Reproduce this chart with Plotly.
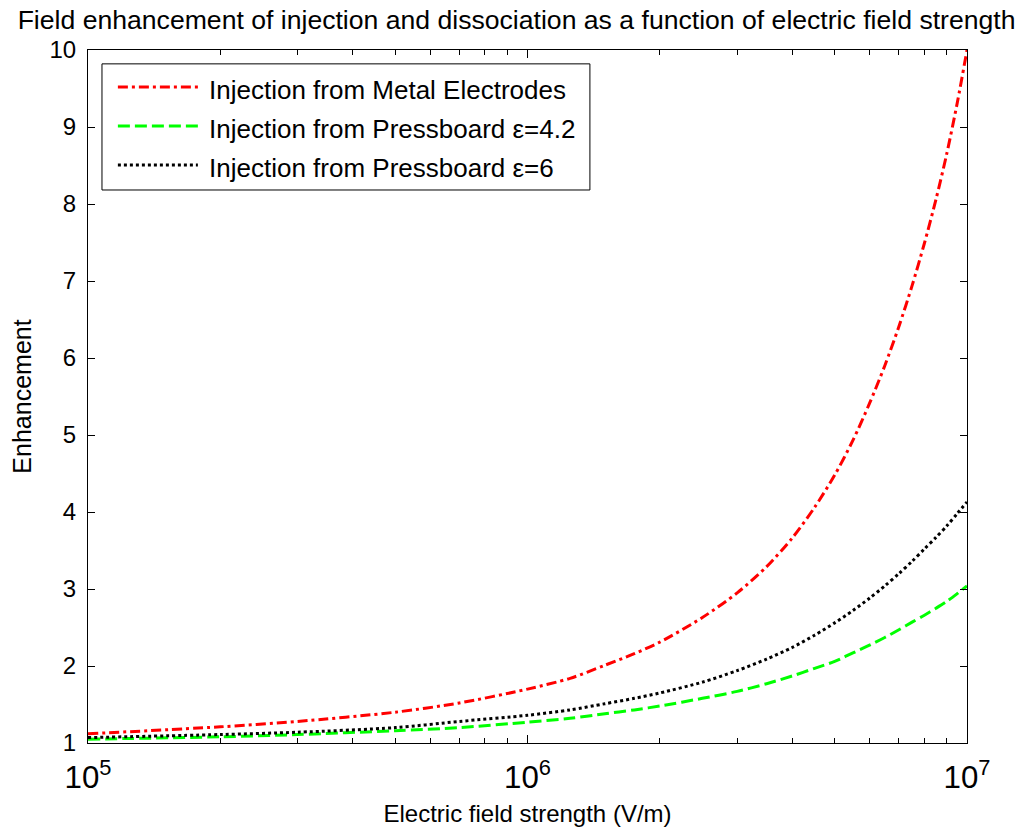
import plotly.graph_objects as go

# Electric field strength (V/m)
field = [1e5, 2e5, 3e5, 5e5, 7e5, 1e6, 1.25e6, 1.5e6, 1.75e6, 2e6, 2.5e6, 3e6, 3.5e6, 4e6,
         4.5e6, 5e6, 5.5e6, 6e6, 6.5e6, 7e6, 7.5e6, 8e6, 8.5e6, 9e6, 9.5e6, 1e7]

# Enhancement factors
metal = [1.12, 1.21, 1.28, 1.40, 1.52, 1.70, 1.84, 2.01, 2.16, 2.31, 2.63, 2.95, 3.29, 3.66,
         4.06, 4.48, 4.93, 5.41, 5.90, 6.41, 6.94, 7.49, 8.06, 8.66, 9.31, 10.0]
pressboard_42 = [1.05, 1.08, 1.11, 1.16, 1.20, 1.27, 1.32, 1.38, 1.43, 1.48, 1.58, 1.67, 1.77, 1.87,
                 1.97, 2.06, 2.17, 2.27, 2.37, 2.47, 2.57, 2.66, 2.75, 2.84, 2.94, 3.04]
pressboard_6 = [1.07, 1.11, 1.14, 1.20, 1.28, 1.36, 1.43, 1.51, 1.58, 1.65, 1.79, 1.94, 2.09, 2.24,
                2.40, 2.56, 2.72, 2.88, 3.04, 3.20, 3.36, 3.52, 3.67, 3.82, 3.98, 4.13]

series_names = ["Injection from Metal Electrodes",
                "Injection from Pressboard \u03b5=4.2",
                "Injection from Pressboard \u03b5=6"]
series_values = [metal, pressboard_42, pressboard_6]
series_colors = ["#ff0000", "#00ff00", "#000000"]
series_dash = ["10px,4px,3px,4px", "12px,5px", "3px,3px"]

y_ticks = list(range(1, 11))

FONT = "Liberation Sans, Arial, Helvetica, sans-serif"

fig = go.Figure()
for name, vals, col, dash in zip(series_names, series_values, series_colors, series_dash):
    fig.add_trace(go.Scatter(
        x=field, y=vals, mode="lines", name=name,
        line=dict(color=col, width=3, dash=dash, shape="spline", smoothing=0.8),
        showlegend=False,
    ))

# Boxed legend in the upper-left corner of the axes
leg_x0, leg_x1 = 0.0159, 0.571
leg_y0, leg_y1 = 0.798, 0.980
fig.add_shape(type="rect", xref="paper", yref="paper",
              x0=leg_x0, x1=leg_x1, y0=leg_y0, y1=leg_y1,
              line=dict(color="black", width=1), fillcolor="white", layer="above")
row_y = [0.9466, 0.8903, 0.8341]
for name, col, dash, ry in zip(series_names, series_colors, series_dash, row_y):
    fig.add_shape(type="line", xref="paper", yref="paper",
                  x0=0.034, x1=0.125, y0=ry, y1=ry,
                  line=dict(color=col, width=3, dash=dash), layer="above")
    fig.add_annotation(text=name, xref="paper", yref="paper",
                       x=0.1355, y=ry - 0.004, xanchor="left", yanchor="middle",
                       showarrow=False, font=dict(family=FONT, size=26, color="black"))

fig.update_layout(
    width=1029, height=829,
    margin=dict(l=88, r=62, t=50, b=86),
    paper_bgcolor="white", plot_bgcolor="white",
    font=dict(family=FONT, size=24, color="black"),
    title=dict(
        text="Field enhancement of injection and dissociation as a function of electric field strength",
        x=0.502, xref="container", xanchor="center",
        y=0.976, yref="container", yanchor="middle",
        font=dict(family=FONT, size=26.6, color="black"),
    ),
    showlegend=False,
)

fig.update_xaxes(
    type="log", range=[5, 7], dtick=1, exponentformat="power",
    showline=True, linecolor="black", linewidth=1, mirror="ticks",
    ticks="inside", ticklen=8, tickcolor="black",
    minor=dict(ticks="inside", ticklen=5, tickcolor="black", dtick="D1", showgrid=False),
    showgrid=False, zeroline=False, automargin=False,
    tickfont=dict(family=FONT, size=25),
    ticklabelstandoff=8,
    title=dict(text="Electric field strength (V/m)", font=dict(family=FONT, size=24), standoff=10),
)
fig.update_yaxes(
    range=[1, 10], tickvals=y_ticks,
    showline=True, linecolor="black", linewidth=1, mirror="ticks",
    ticks="inside", ticklen=7, tickcolor="black",
    showgrid=False, zeroline=False, automargin=False,
    tickfont=dict(family=FONT, size=24),
    ticklabelstandoff=6,
    title=dict(text="Enhancement", font=dict(family=FONT, size=25), standoff=10),
)

fig.write_html("out.html")
